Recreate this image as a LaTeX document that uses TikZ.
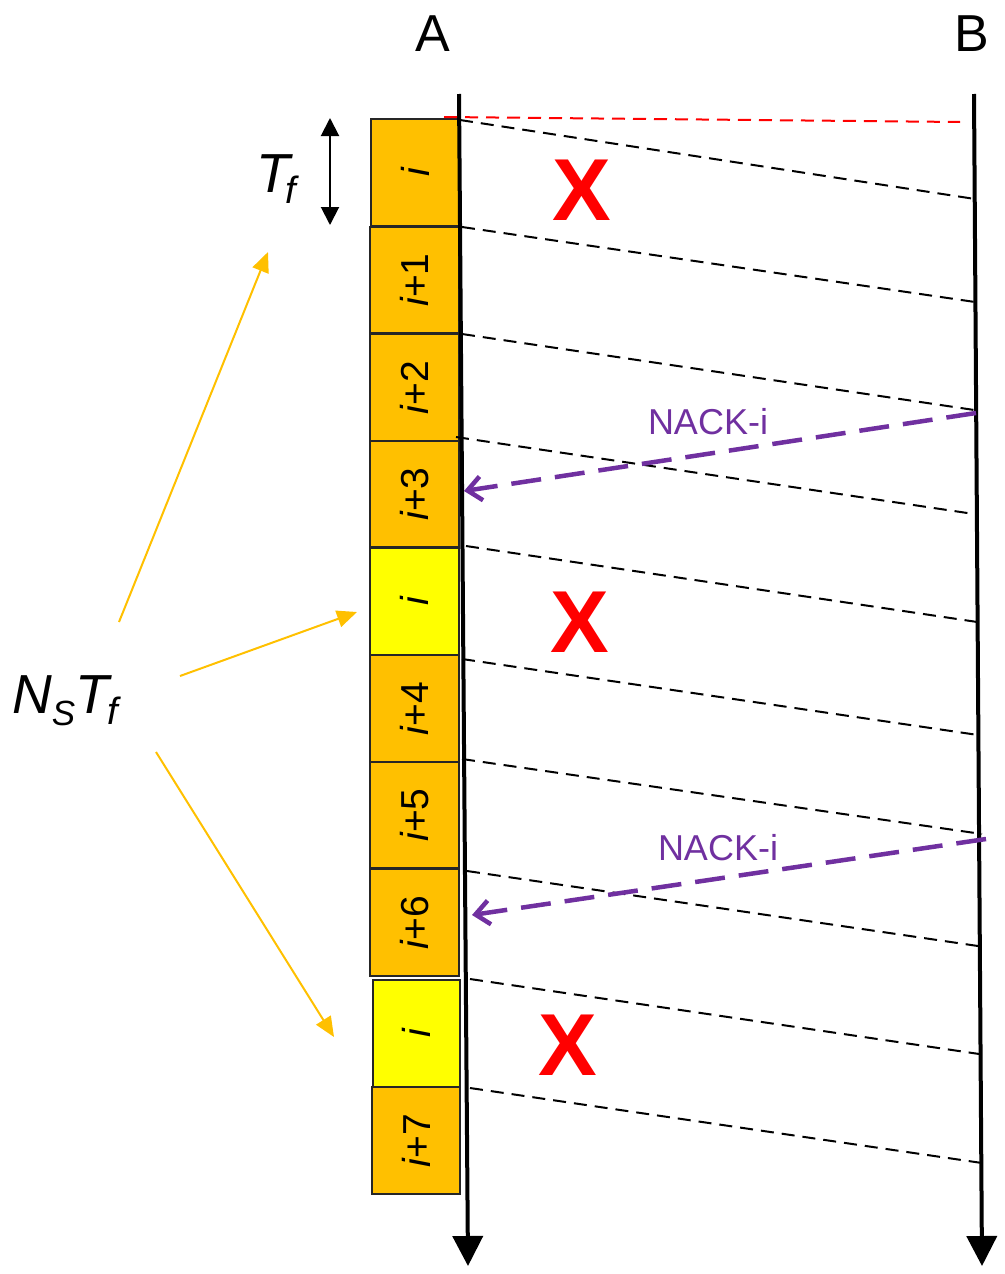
\documentclass[tikz,border=0pt]{standalone}
\usepackage{fontspec}
\setmainfont{Liberation Sans}
\usetikzlibrary{arrows.meta}
\definecolor{orng}{HTML}{FFC000}
\definecolor{yel}{HTML}{FFFF00}
\definecolor{purp}{HTML}{7030A0}
\newcommand{\lbl}[1]{\rotatebox{90}{\fontsize{39}{39}\selectfont\itshape i\upshape#1}}
\newcommand{\fsub}[1]{\raisebox{-11pt}{\fontsize{38}{38}\selectfont\itshape #1}}
\begin{document}
\begin{tikzpicture}[x=1pt,y=-1pt,
  frame/.style={draw=black!85, line width=1.1pt, minimum width=89pt, minimum height=107pt, anchor=north west, inner sep=0pt, outer sep=0pt},
  obox/.style={frame, fill=orng},
  ybox/.style={frame, fill=yel},
  axis/.style={line width=4pt, -{Triangle[length=30pt,width=30pt]}},
  frm/.style={line width=2pt, dash pattern=on 13pt off 8pt},
  nack/.style={purp, line width=4.5pt, dash pattern=on 30pt off 14pt, -{Straight Barb[length=14pt,width=24pt]}},
  nacklbl/.style={purp, font=\fontsize{36}{36}\selectfont},
  lost/.style={red, font=\fontsize{88}{88}\selectfont\bfseries},
  ptr/.style={orng, line width=2pt, -{Triangle[length=20pt,width=17pt]}},
  big/.style={font=\fontsize{52}{52}\selectfont, inner sep=0pt}
]
\useasboundingbox (0,0) rectangle (1004,1274);

% frames
\node[obox, minimum width=88pt] (b0) at (371,119) {\lbl{}};
\node[obox, minimum height=106pt] (b1) at (370,227) {\lbl{+1}};
\node[obox] (b2) at (370,334) {\lbl{+2}};
\node[obox, minimum height=106pt] (b3) at (370,441) {\lbl{+3}};
\node[ybox] (b4) at (370,548) {\lbl{}};
\node[obox] (b5) at (370,655) {\lbl{+4}};
\node[obox, minimum height=106pt] (b6) at (370,762) {\lbl{+5}};
\node[obox] (b7) at (370,869) {\lbl{+6}};
\node[ybox, minimum width=87pt] (b8) at (373,980) {\lbl{}};
\node[obox, minimum width=88pt] (b9) at (372,1087) {\lbl{+7}};

% station labels
\node[big] (A) at (433,34) {A};
\node[big] (B) at (972,34) {B};

% time axes
\coordinate (Atop) at (459,94);
\coordinate (Abot) at (468,1266);
\coordinate (Btop) at (974,94);
\coordinate (Bbot) at (982,1266);
\draw[axis] (Atop) -- (Abot);
\draw[axis] (Btop) -- (Bbot);

% red reference line
\coordinate (r1) at (444,117);
\coordinate (r2) at (960,122);
\draw[red, frm] (r1) -- (r2);

% frame transmissions
\foreach \n/\sx/\sy/\ex/\ey in {1/460/120/975/199, 2/462/227/975/302, 3/462/334/981/411,
  4/456/437/974/514, 5/466/546/984/623, 6/462/659/978/735, 7/462/759/982/834,
  8/467/871/978/946, 9/470/979/986/1055, 10/470/1088/982/1163}{
  \coordinate (s\n) at (\sx,\sy);
  \coordinate (e\n) at (\ex,\ey);
  \draw[frm] (s\n) -- (e\n);
}

% lost marks
\node[lost] (x1) at (582,190) {X};
\node[lost] (x2) at (580,622) {X};
\node[lost] (x3) at (568,1045) {X};

% NACKs
\coordinate (n1s) at (976,413);
\coordinate (n1e) at (464,491);
\draw[nack] (n1s) -- (n1e);
\node[nacklbl] (l1) at (708,422) {NACK-i};
\coordinate (n2s) at (986,839);
\coordinate (n2e) at (472,915);
\draw[nack] (n2s) -- (n2e);
\node[nacklbl] (l2) at (718,848) {NACK-i};

% Tf
\node[anchor=base west, inner sep=0pt] (tf) at (256,192)
  {\fontsize{55}{55}\selectfont\itshape T\kern-4pt\fsub{f}};
\coordinate (d1) at (330,118);
\coordinate (d2) at (330,225);
\draw[line width=2pt, {Triangle[length=18pt,width=18pt]}-{Triangle[length=18pt,width=18pt]}] (d1) -- (d2);

% Ns Tf
\node[anchor=base west, inner sep=0pt] (ns) at (12,713)
  {\fontsize{55}{55}\selectfont\itshape N\raisebox{-12pt}{\fontsize{35}{35}\selectfont S}T\kern-1pt\fsub{f}};
\coordinate (p1s) at (119,622);
\coordinate (p1e) at (268,252);
\coordinate (p2s) at (180,676);
\coordinate (p2e) at (357,612);
\coordinate (p3s) at (156,752);
\coordinate (p3e) at (334,1037);
\draw[ptr] (p1s) -- (p1e);
\draw[ptr] (p2s) -- (p2e);
\draw[ptr] (p3s) -- (p3e);
\end{tikzpicture}
\end{document}
